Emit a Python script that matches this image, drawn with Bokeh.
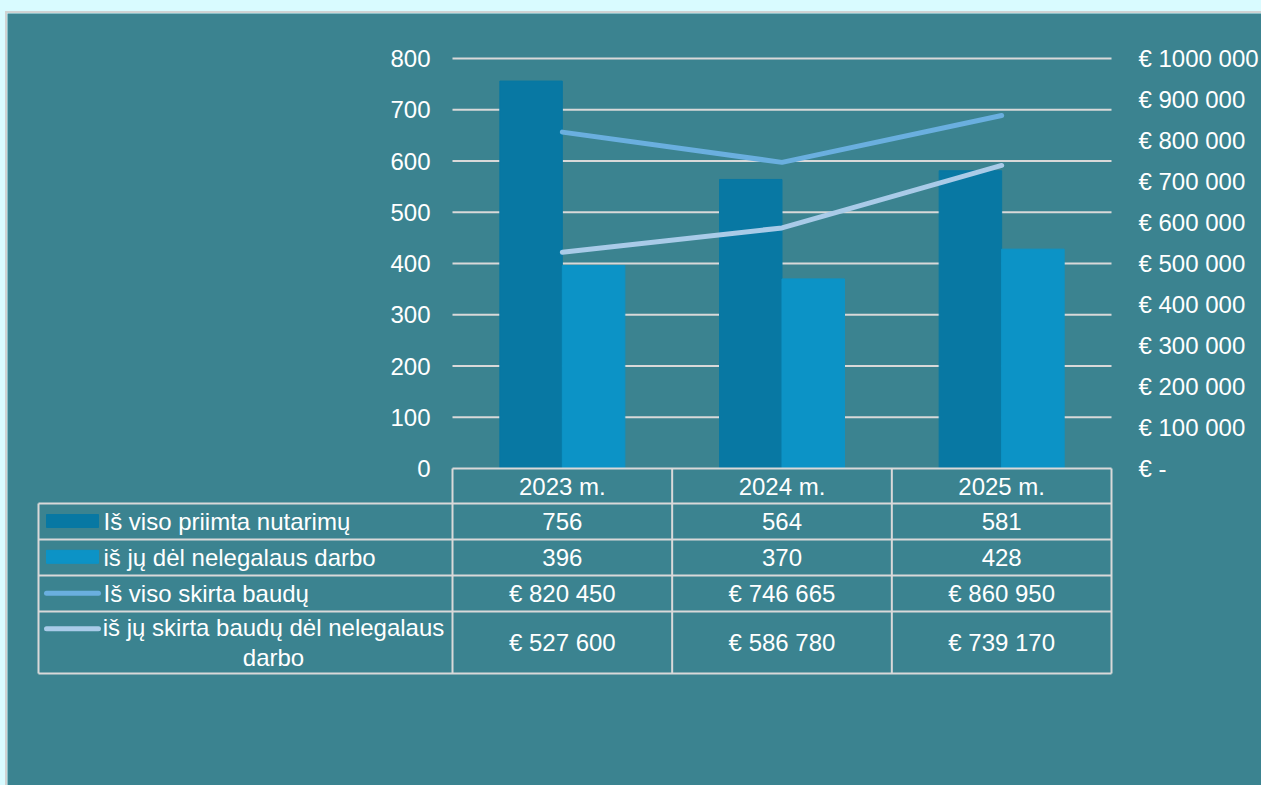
from bokeh.plotting import figure
from bokeh.models import Range1d, LinearAxis, FixedTicker
from bokeh.core.properties import value
from bokeh.embed import file_html
from bokeh.resources import INLINE

# ---------------- data ----------------
years = ["2023 m.", "2024 m.", "2025 m."]
nutarimai = [756, 564, 581]                     # Iš viso priimta nutarimų
nelegalus = [396, 370, 428]                     # iš jų dėl nelegalaus darbo
baudos = [820450, 746665, 860950]               # Iš viso skirta baudų
baudos_nelegalus = [527600, 586780, 739170]     # iš jų skirta baudų dėl nelegalaus darbo
series_names = ["Iš viso priimta nutarimų", "iš jų dėl nelegalaus darbo",
                "Iš viso skirta baudų", "iš jų skirta baudų dėl nelegalaus", "darbo"]
left_ticks = [0, 100, 200, 300, 400, 500, 600, 700, 800]
right_ticks = [0, 100000, 200000, 300000, 400000, 500000, 600000, 700000, 800000, 900000, 1000000]
right_labels = ["€ -", "€ 100 000", "€ 200 000", "€ 300 000", "€ 400 000", "€ 500 000",
                "€ 600 000", "€ 700 000", "€ 800 000", "€ 900 000", "€ 1000 000"]

# ---------------- style ----------------
BG = "#3b8390"
DARK = "#0878a3"
LIGHT = "#0c93c6"
L1 = "#6aafdf"
L2 = "#a9cbe8"
GRID = "#d9d9d9"
TXT = "#ffffff"
FONT = "Liberation Sans"
FS = "24px"

# layout geometry (page pixels)
PL, PT = 7, 13          # figure top-left on the page
W, H = 1254, 772
X0, Y0 = 452, 468       # page position of category 0 / value 0
S = 659 / 3.0           # px per category
SY = 410 / 800.0        # px per unit on the left axis
RATIO = 1000000 / 800.0


def dx(px):
    return (px - X0) / S


def dy(py):
    return (Y0 - py) / SY


def eur(v):
    return "€ " + f"{v:,}".replace(",", " ")


xc = [i + 0.5 for i in range(len(years))]
bw = 62.5 / S

p = figure(width=W, height=H,
           x_range=Range1d(dx(PL), dx(PL + W)),
           y_range=Range1d(dy(PT + H), dy(PT)),
           x_axis_type=None, y_axis_type=None, toolbar_location=None,
           output_backend="svg", min_border=0)
p.min_border_left = 0
p.min_border_right = 0
p.min_border_top = 0
p.min_border_bottom = 0
p.background_fill_color = BG
p.border_fill_color = BG
p.outline_line_color = None
p.grid.visible = False
p.extra_y_ranges = {"eur": Range1d(dy(PT + H) * RATIO, dy(PT) * RATIO)}

laxis = LinearAxis(ticker=FixedTicker(ticks=left_ticks), fixed_location=0)
raxis = LinearAxis(y_range_name="eur", ticker=FixedTicker(ticks=right_ticks), fixed_location=3,
                   major_label_overrides={t: l for t, l in zip(right_ticks, right_labels)})
for ax in (laxis, raxis):
    ax.axis_line_color = None
    ax.major_tick_line_color = None
    ax.minor_tick_line_color = None
    ax.major_tick_in = 0
    ax.major_tick_out = 0
    ax.minor_tick_in = 0
    ax.minor_tick_out = 0
    ax.major_label_text_color = TXT
    ax.major_label_text_font = FONT
    ax.major_label_text_font_size = FS
laxis.major_label_standoff = 22
raxis.major_label_standoff = 27
p.add_layout(laxis, "left")
p.add_layout(raxis, "right")

# horizontal gridlines of the chart
gt = left_ticks[1:]
p.segment(x0=[0] * len(gt), y0=gt, x1=[3] * len(gt), y1=gt, line_color=GRID, line_width=2)

# bars and lines
p.vbar(x=[c - bw / 2 for c in xc], top=nutarimai, width=bw, color=DARK)
p.vbar(x=[c + bw / 2 for c in xc], top=nelegalus, width=bw, color=LIGHT)
p.line(xc, baudos, y_range_name="eur", line_width=5, color=L1,
       line_cap="round", line_join="round")
p.line(xc, baudos_nelegalus, y_range_name="eur", line_width=5, color=L2,
       line_cap="round", line_join="round")

# ---------------- data table ----------------
xl = dx(38)
row_py = [503, 539, 575, 611, 673]
hy = [dy(r) for r in row_py]
p.segment(x0=[0] + [xl] * len(hy), y0=[0] + hy, x1=[3] * (len(hy) + 1), y1=[0] + hy,
          line_color=GRID, line_width=2)
vx = [0, 1, 2, 3, xl]
p.segment(x0=vx, y0=[0, 0, 0, 0, hy[0]], x1=vx, y1=[hy[-1]] * 5, line_color=GRID, line_width=2)

tprops = dict(text_color=TXT, text_font=value(FONT), text_font_size=FS, text_baseline="middle")
p.text(x=xc, y=[dy(486)] * 3, text=years, text_align="center", **tprops)
p.text(x=xc, y=[dy(521)] * 3, text=[str(v) for v in nutarimai], text_align="center", **tprops)
p.text(x=xc, y=[dy(557)] * 3, text=[str(v) for v in nelegalus], text_align="center", **tprops)
p.text(x=xc, y=[dy(593)] * 3, text=[eur(v) for v in baudos], text_align="center", **tprops)
p.text(x=xc, y=[dy(642)] * 3, text=[eur(v) for v in baudos_nelegalus], text_align="center", **tprops)

p.text(x=[dx(103)] * 3, y=[dy(521), dy(557), dy(593)], text=series_names[:3],
       text_align="left", **tprops)
p.text(x=[dx(273)] * 2, y=[dy(627), dy(657)], text=series_names[3:], text_align="center", **tprops)

p.rect(x=[dx(72)], y=[dy(520.5)], width=52 / S, height=13 / SY, color=DARK)
p.rect(x=[dx(72)], y=[dy(556.3)], width=52 / S, height=13 / SY, color=LIGHT)
p.line([dx(46), dx(98)], [dy(592.7)] * 2, line_width=5, color=L1, line_cap="round")
p.line([dx(46), dx(98)], [dy(628.3)] * 2, line_width=5, color=L2, line_cap="round")

html = file_html(p, INLINE)
css = ("<style>html, body {height: auto !important;} "
       "body {margin: 11px 0 0 5px !important; border-top: 2px solid #cfd3d3; "
       "border-left: 2px solid #cfd3d3; background: #d9fbff;}</style>")
html = html.replace("</head>", css + "</head>", 1)
open("out.html", "w").write(html)
